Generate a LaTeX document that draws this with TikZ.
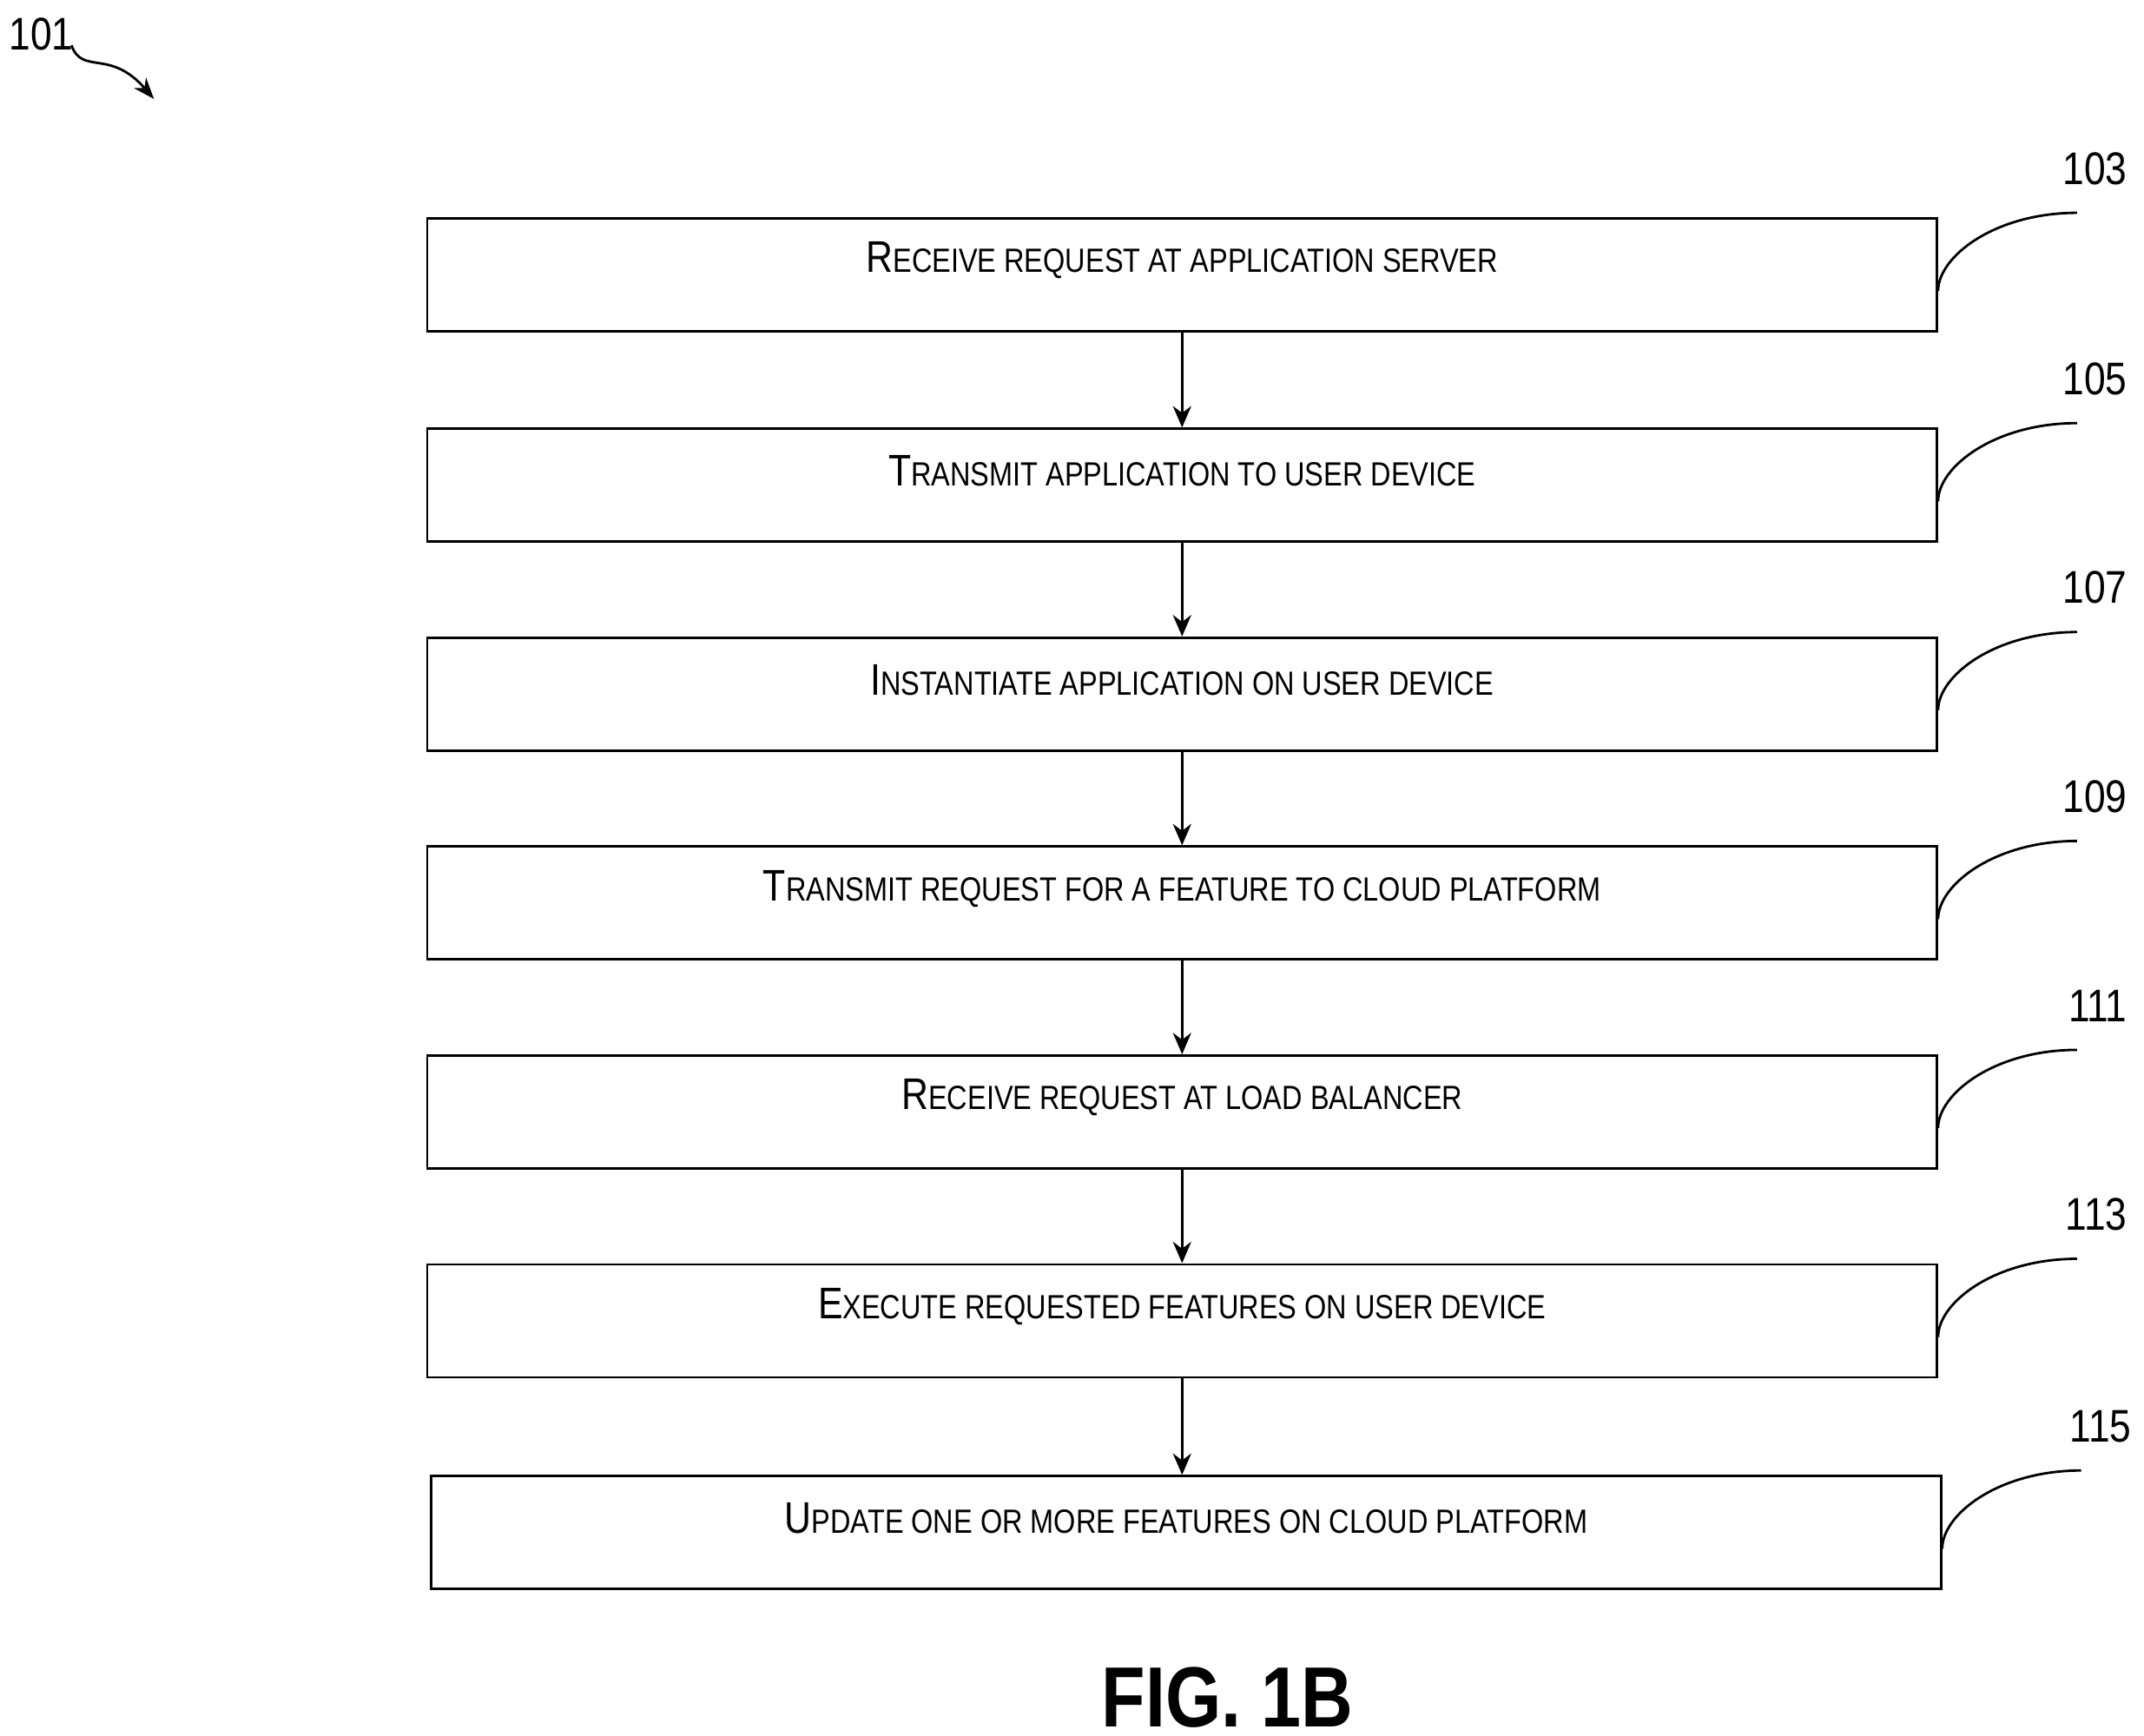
\documentclass[tikz,border=0pt]{standalone}
\usepackage{fontspec}
\setmainfont{Liberation Sans}
\newfontfamily\narrowf[FakeStretch=0.84]{Liberation Sans}
\usetikzlibrary{positioning,arrows.meta}
\newcommand{\fsc}[2]{{\narrowf\fontsize{14.5}{18}\selectfont #1}{\narrowf\fontsize{11}{14}\selectfont #2}}
\tikzset{
  stepbox/.style={draw=black, thick, minimum width=17.38cm, minimum height=1.3cm, inner sep=0pt, anchor=north west},
  flow/.style={-{Stealth[length=7pt,width=6pt]}, thick},
  lead/.style={thick},
  tag/.style={font=\narrowf\fontsize{15}{18}\selectfont}
}
\begin{document}
\begin{tikzpicture}[x=0.01583cm,y=-0.01583cm]
  \useasboundingbox (0,0) rectangle (1560,1263);
  % ref label
  \node[tag] (ref) at (30,25) {101};
  \coordinate (refend) at (112,72);
  \draw[-{Stealth[length=7pt]}, thick] (52,33) .. controls (60,55) and (80,35) .. (refend);
  % steps
  \node[stepbox] (s1) at (310,158) {};
  \node[stepbox] (s2) at (310,311) {};
  \node[stepbox] (s3) at (310,463) {};
  \node[stepbox] (s4) at (310,615) {};
  \node[stepbox] (s5) at (310,767) {};
  \node[stepbox] (s6) at (310,919) {};
  \node[stepbox] (s7) at (313,1073) {};
  \node at ([yshift=-0.5cm]s1.north) {\fsc{R}{ECEIVE REQUEST AT APPLICATION SERVER}};
  \node at ([yshift=-0.5cm]s2.north) {\fsc{T}{RANSMIT APPLICATION TO USER DEVICE}};
  \node at ([yshift=-0.5cm]s3.north) {\fsc{I}{NSTANTIATE APPLICATION ON USER DEVICE}};
  \node at ([yshift=-0.5cm]s4.north) {\fsc{T}{RANSMIT REQUEST FOR A FEATURE TO CLOUD PLATFORM}};
  \node at ([yshift=-0.5cm]s5.north) {\fsc{R}{ECEIVE REQUEST AT LOAD BALANCER}};
  \node at ([yshift=-0.5cm]s6.north) {\fsc{E}{XECUTE REQUESTED FEATURES ON USER DEVICE}};
  \node at ([yshift=-0.5cm]s7.north) {\fsc{U}{PDATE ONE OR MORE FEATURES ON CLOUD PLATFORM}};
  % arrows
  \foreach \a/\b in {s1/s2,s2/s3,s3/s4,s4/s5,s5/s6,s6/s7}
    \draw[flow] (\a.south) -- (\a.south |- \b.north);
  % leaders
  \foreach \s/\n in {s1/103,s2/105,s3/107,s4/109,s5/111,s6/113,s7/115}{
    \node[tag, anchor=south east] (t\s) at ([xshift=2.3cm,yshift=0.25cm]\s.north east) {\n};
    \draw[lead] ([yshift=-0.85cm]\s.north east) .. controls +(0,-25) and +(-60,0) .. ([xshift=1.6cm,yshift=0.05cm]\s.north east);
  }
  \node[font=\narrowf\bfseries\fontsize{28}{32}\selectfont] (fig) at (893,1235) {FIG. 1B};
\end{tikzpicture}
\end{document}
